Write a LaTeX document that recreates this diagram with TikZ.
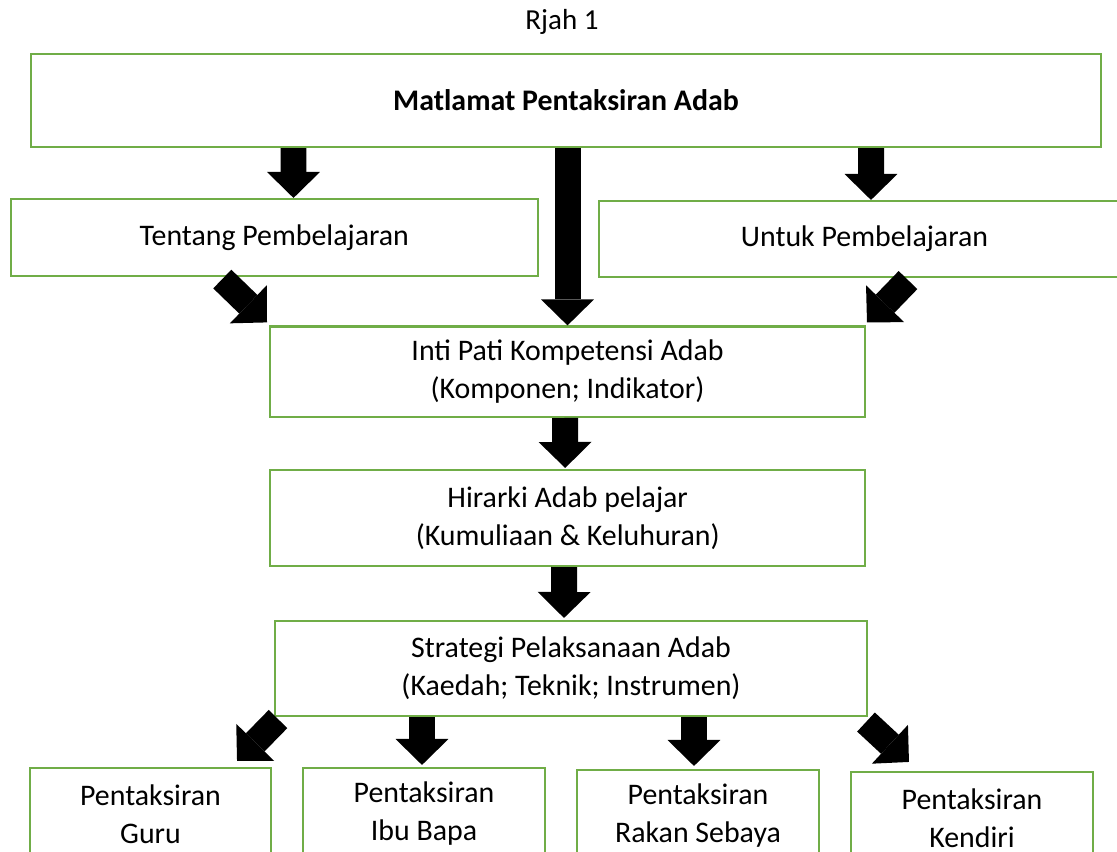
\documentclass[tikz,border=0pt]{standalone}
\usepackage{fontspec}
\setmainfont{Carlito}
\usepackage{tikz}
\usepackage{xcolor}
\usetikzlibrary{positioning}
\usetikzlibrary{calc}
\usetikzlibrary{arrows.meta}
\definecolor{boxgreen}{HTML}{70AD47}

\begin{document}
\begin{tikzpicture}[x=0.02cm, y=-0.02cm,
  box/.style={draw=boxgreen, line width=1.2pt, fill=white, align=center, inner sep=0pt,
    font=\fontsize{17}{21.6}\selectfont},
  bigarrow/.style={line width=0.52cm, -{Triangle[length=0.52cm, width=1.06cm, line width=0pt]}}]
\clip (0,0) rectangle (1117,852);
\node[font=\fontsize{16.5}{20}\selectfont] (rajah) at (562,22) {Rjah 1};
\node[box, minimum width=21.42cm, minimum height=1.86cm, font=\fontsize{17}{21.6}\selectfont\bfseries] (matlamat) at (566,100.5) {Matlamat Pentaksiran Adab};
\node[box, minimum width=10.54cm, minimum height=1.54cm] (tentang) at (274.3,237.5) {Tentang Pembelajaran};
\node[box, minimum width=10.62cm, minimum height=1.52cm] (untuk) at (864.5,239) {Untuk Pembelajaran};
\node[box, minimum width=11.9cm, minimum height=1.81cm] (inti) at (567.5,371.7) {Inti Pati Kompetensi Adab\\(Komponen; Indikator)};
\node[box, minimum width=11.9cm, minimum height=1.92cm] (hirarki) at (567.7,518) {Hirarki Adab pelajar\\(Kumuliaan \& Keluhuran)};
\node[box, minimum width=11.84cm, minimum height=1.9cm] (strategi) at (571,668.5) {Strategi Pelaksanaan Adab\\(Kaedah; Teknik; Instrumen)};
\node[box, minimum width=4.82cm, minimum height=1.84cm] (guru) at (150.5,814) {Pentaksiran\\Guru};
\node[box, minimum width=4.84cm, minimum height=1.84cm] (ibubapa) at (424,814) {Pentaksiran\\Ibu Bapa};
\node[box, minimum width=4.84cm, minimum height=1.84cm] (rakan) at (698,816) {Pentaksiran\\Rakan Sebaya};
\node[box, minimum width=4.84cm, minimum height=1.84cm] (kendiri) at (972,818) {Pentaksiran\\Kendiri};
\draw[bigarrow] ($(matlamat.south)+(-272.5,0)$) -- ($(tentang.north)+(19.2,0)$);
\draw[bigarrow] ($(matlamat.south)+(1.5,0)$) -- (inti.north);
\draw[bigarrow] ($(matlamat.south)+(305,0)$) -- ($(untuk.north)+(6.5,0)$);
\draw[bigarrow] ($(tentang.south)+(-52,2)$) -- ($(inti.north west)+(-2,-3)$);
\draw[bigarrow] ($(untuk.south)+(43.5,2)$) -- ($(inti.north east)+(1,-3)$);
\draw[bigarrow] ($(inti.south)+(-2.5,0)$) -- ($(hirarki.north)+(-2.5,-1)$);
\draw[bigarrow] ($(hirarki.south)+(-3.5,0)$) -- ($(strategi.north)+(-7,-2)$);
\draw[bigarrow] ($(strategi.south west)+(4,2)$) -- ($(guru.north east)+(-35,-6)$);
\draw[bigarrow] ($(strategi.south)+(-149,0)$) -- ($(ibubapa.north)+(-2,-2)$);
\draw[bigarrow] ($(strategi.south)+(123,0)$) -- ($(rakan.north)+(-4,-3)$);
\draw[bigarrow] ($(strategi.south east)+(-2,5)$) -- ($(kendiri.north west)+(59,-9)$);
\end{tikzpicture}
\end{document}
